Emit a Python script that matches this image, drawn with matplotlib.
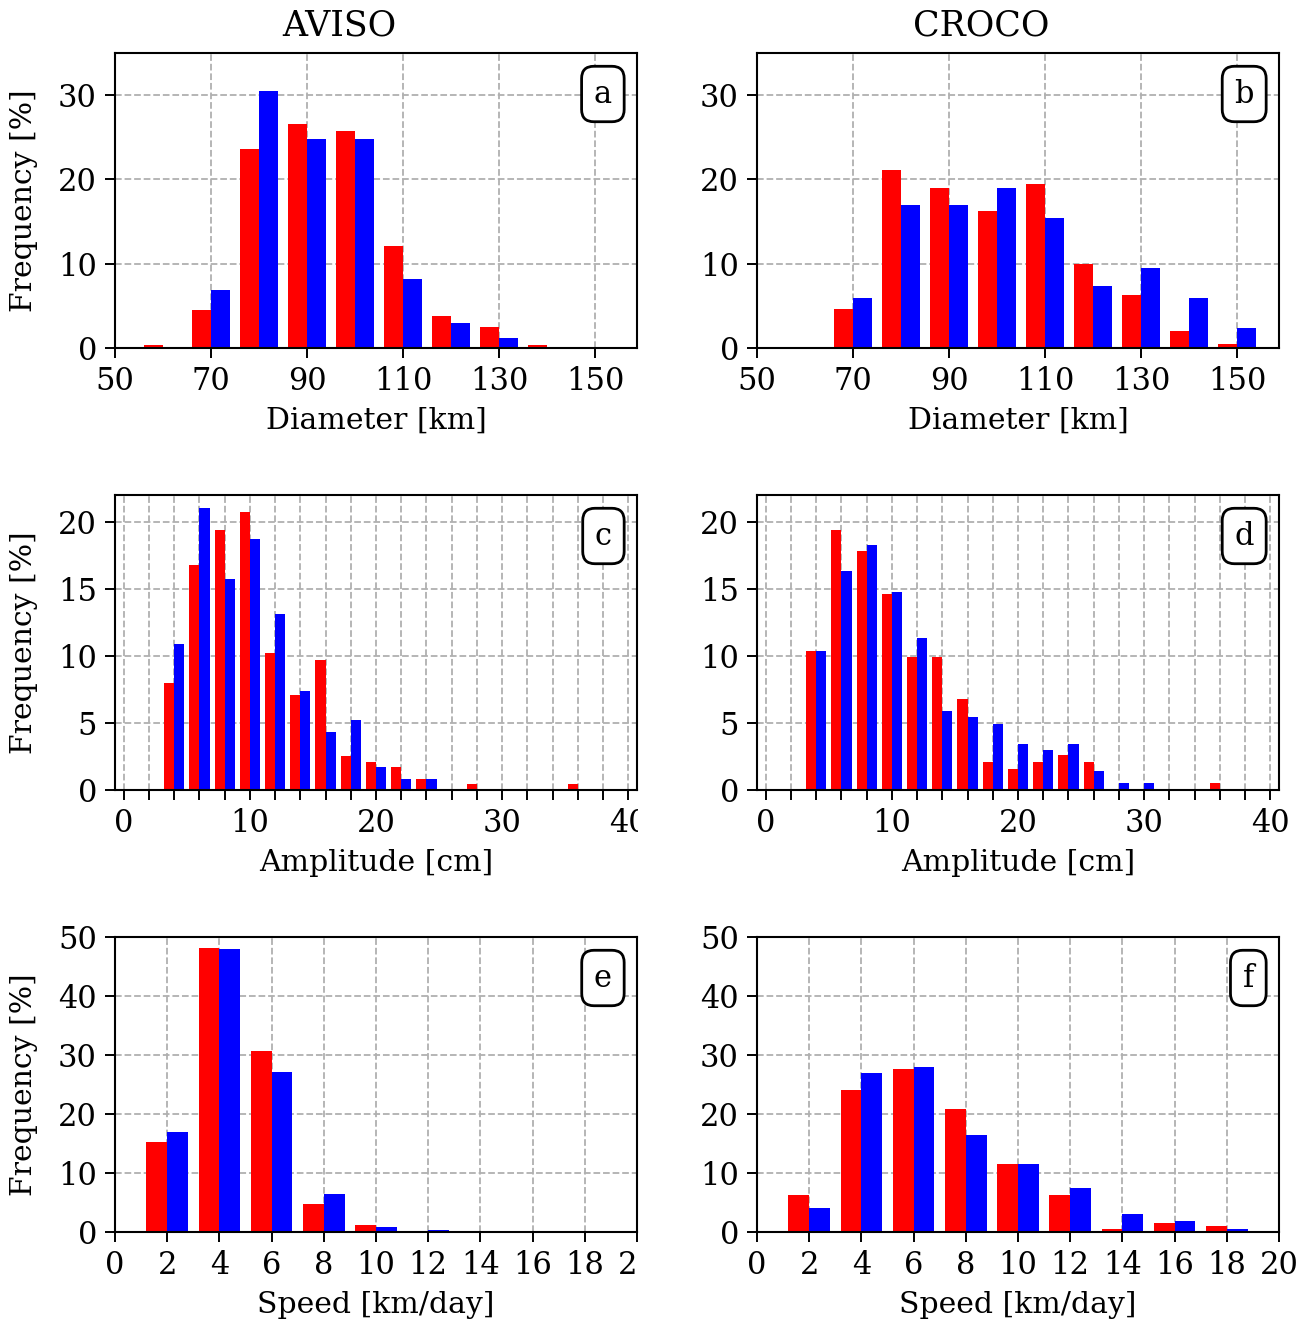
import numpy as np
import matplotlib
matplotlib.use("Agg")
import matplotlib.pyplot as plt
from matplotlib.transforms import Bbox, TransformedBbox

plt.rcParams['font.family'] = ['DejaVu Serif']
plt.rcParams['font.size'] = 21

# ---- data (percent frequency per bin) ----
diam_bins = np.array([60, 70, 80, 90, 100, 110, 120, 130, 140, 150])
aviso_diam_red = [0.3, 4.5, 23.6, 26.6, 25.7, 12.1, 3.8, 2.5, 0.35, 0]
aviso_diam_blue = [0, 6.9, 30.5, 24.8, 24.8, 8.2, 3.0, 1.2, 0, 0]
croco_diam_red = [0, 4.6, 21.1, 19.0, 16.3, 19.5, 10.0, 6.3, 2.0, 0.45]
croco_diam_blue = [0, 5.9, 17.0, 17.0, 19.0, 15.4, 7.4, 9.5, 5.9, 2.4]

amp_bins = np.arange(4, 38, 2)
aviso_amp_red = [8.0, 16.8, 19.4, 20.7, 10.2, 7.1, 9.7, 2.5, 2.1, 1.7, 0.8, 0, 0.45, 0, 0, 0, 0.45]
aviso_amp_blue = [10.9, 21.0, 15.7, 18.75, 13.1, 7.4, 4.35, 5.2, 1.7, 0.8, 0.8, 0, 0, 0, 0, 0, 0]
croco_amp_red = [10.4, 19.4, 17.8, 14.6, 9.9, 9.9, 6.8, 2.1, 1.55, 2.1, 2.6, 2.1, 0, 0, 0, 0, 0.5]
croco_amp_blue = [10.35, 16.35, 18.25, 14.8, 11.3, 5.9, 5.45, 4.95, 3.45, 3.0, 3.45, 1.45, 0.5, 0.5, 0, 0, 0]

speed_bins = np.arange(2, 20, 2)
aviso_speed_red = [15.2, 48.1, 30.7, 4.7, 1.25, 0, 0, 0, 0]
aviso_speed_blue = [17.0, 48.0, 27.1, 6.45, 0.9, 0.3, 0, 0, 0]
croco_speed_red = [6.3, 24.0, 27.7, 20.9, 11.5, 6.3, 0.5, 1.6, 1.05]
croco_speed_blue = [4.0, 26.9, 28.0, 16.4, 11.5, 7.4, 3.0, 1.9, 0.5]

RED = '#ff0000'
BLUE = '#0000ff'

fig = plt.figure(figsize=(13.15, 13.24), dpi=100)

lefts = [115 / 1315, 757 / 1315]
width = 522 / 1315
bottoms = [1 - 348 / 1324, 1 - 790 / 1324, 1 - 1232 / 1324]
height = 295 / 1324

panels = [
    # row, col, bins, binwidth, red, blue, letter, xlabel
    (0, 0, diam_bins, 10, aviso_diam_red, aviso_diam_blue, 'a', 'Diameter [km]'),
    (0, 1, diam_bins, 10, croco_diam_red, croco_diam_blue, 'b', 'Diameter [km]'),
    (1, 0, amp_bins, 2, aviso_amp_red, aviso_amp_blue, 'c', 'Amplitude [cm]'),
    (1, 1, amp_bins, 2, croco_amp_red, croco_amp_blue, 'd', 'Amplitude [cm]'),
    (2, 0, speed_bins, 2, aviso_speed_red, aviso_speed_blue, 'e', 'Speed [km/day]'),
    (2, 1, speed_bins, 2, croco_speed_red, croco_speed_blue, 'f', 'Speed [km/day]'),
]

# left column was cropped just right of its frame in the original
clip = TransformedBbox(Bbox([[0, 0], [638 / 1315, 1]]), fig.transFigure)

for row, col, bins, bw, red, blue, letter, xlabel in panels:
    ax = fig.add_axes([lefts[col], bottoms[row], width, height])
    ax.set_axisbelow(True)
    ax.bar(bins, red, width=-0.4 * bw, align='edge', color=RED)
    ax.bar(bins, blue, width=0.4 * bw, align='edge', color=BLUE)

    if row == 0:
        ax.set_xlim(50, 158.7)
        ax.set_xticks([50, 70, 90, 110, 130, 150])
        ax.set_ylim(0, 35)
        ax.set_yticks([0, 10, 20, 30])
        ax.grid(True, ls='--', color='#b0b0b0', lw=1.3)
    elif row == 1:
        ax.set_xlim(-0.7, 40.7)
        ax.set_xticks([0, 10, 20, 30, 40])
        ax.set_xticks(np.arange(0, 41, 2), minor=True)
        ax.set_ylim(0, 22)
        ax.set_yticks([0, 5, 10, 15, 20])
        ax.grid(True, which='major', ls='--', color='#b0b0b0', lw=1.3)
        ax.grid(True, which='minor', axis='x', ls='--', color='#b0b0b0', lw=1.3)
    else:
        ax.set_xlim(0, 20)
        ax.set_xticks(np.arange(0, 21, 2))
        ax.set_ylim(0, 50)
        ax.set_yticks([0, 10, 20, 30, 40, 50])
        ax.grid(True, ls='--', color='#b0b0b0', lw=1.3)

    ax.tick_params(which='both', direction='out', length=7, width=1.4, pad=6, labelsize=22)
    for s in ax.spines.values():
        s.set_linewidth(1.5)

    ax.set_xlabel(xlabel, fontsize=21.5, labelpad=7)
    if col == 0:
        ax.set_ylabel('Frequency [%]', fontsize=21.5)
        ax.yaxis.set_label_coords(-0.148, 0.5)
        for lbl in ax.get_xticklabels():
            lbl.set_clip_box(clip)
            lbl.set_clip_on(True)

    ax.text(0.952, 0.861, letter, transform=ax.transAxes, ha='right', va='center',
            fontsize=22, bbox=dict(boxstyle='round,pad=0.4', fc='white', ec='black', lw=2))

fig.text(339 / 1315, 1 - 25 / 1324, 'AVISO', ha='center', va='center', fontsize=25)
fig.text(981 / 1315, 1 - 25 / 1324, 'CROCO', ha='center', va='center', fontsize=25)

fig.savefig('out.png', dpi=100)
